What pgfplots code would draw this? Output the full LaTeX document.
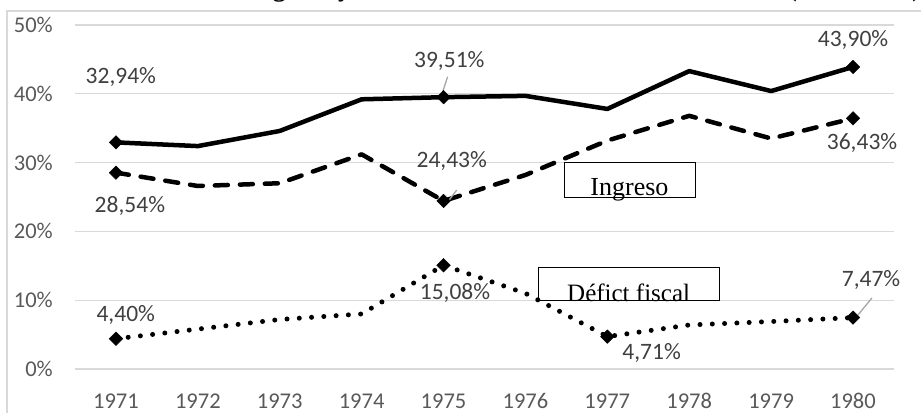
\documentclass[border=0pt]{standalone}
\usepackage{fontspec}
\setmainfont{Carlito}
\newfontfamily\tnr{Liberation Serif}
\usepackage{pgfplots}
\pgfplotsset{compat=1.18}
\definecolor{gridc}{HTML}{D9D9D9}
\definecolor{lab}{HTML}{404040}
\definecolor{tickc}{HTML}{595959}
\definecolor{lead}{HTML}{A6A6A6}
\begin{document}
\begin{tikzpicture}
\useasboundingbox (0pt,0pt) rectangle (921pt,413pt);
\fill[white] (0pt,0pt) rectangle (921pt,413pt);
\draw[gridc, line width=1.2pt] (7pt,0pt) -- (7pt,402pt) -- (921pt,402pt);
\begin{scope}[every node/.style={overlay, inner sep=0pt, font=\tnr\bfseries\fontsize{26}{30}\selectfont}]
\node[anchor=base east] at (244pt,416.5pt) {Gasto,};
\node[anchor=base west] at (251pt,416.5pt) {ingreso y déficit fiscal del Gobierno Federal};
\node[anchor=base west] at (788pt,416.5pt) {(\% del PIB)};
\end{scope}
\begin{axis}[at={(75pt,44pt)}, anchor=south west, scale only axis,
  width=819pt, height=344pt,
  xmin=1970.5, xmax=1980.5, ymin=0, ymax=50,
  axis line style={draw=none},
  ymajorgrids, grid style={gridc, line width=1.2pt},
  major tick length=0pt,
  xtick={1971,...,1980}, ytick={0,10,...,50},
  xticklabels={1971,1972,1973,1974,1975,1976,1977,1978,1979,1980},
  yticklabels={0\%,10\%,20\%,30\%,40\%,50\%},
  tick label style={font=\fontsize{22.5}{26}\selectfont, text=tickc, inner sep=0pt},
  yticklabel style={anchor=east, xshift=-22pt},
  xticklabel style={anchor=base, yshift=-39pt},
  clip=false]
% Gasto
\addplot[black, line width=4.5pt, line join=round, mark=square*, mark size=4.8pt,
  mark indices={1,5,10}, mark options={solid, rotate=45, line width=0.4pt}]
  coordinates {(1971,32.94) (1972,32.4) (1973,34.6) (1974,39.2) (1975,39.51)
  (1976,39.7) (1977,37.8) (1978,43.3) (1979,40.4) (1980,43.90)};
% Ingreso
\addplot[black, line width=4.5pt, line join=round, line cap=round, dash pattern=on 13pt off 12pt,
  mark=square*, mark size=4.8pt,
  mark indices={1,5,10}, mark options={solid, rotate=45, line width=0.4pt}]
  coordinates {(1971,28.54) (1972,26.6) (1973,27.0) (1974,31.2) (1975,24.43)
  (1976,28.2) (1977,33.2) (1978,36.8) (1979,33.5) (1980,36.43)};
% Deficit
\addplot[black, line width=5pt, line cap=round, dash pattern=on 0pt off 12.3pt,
  mark=square*, mark size=4.8pt,
  mark indices={1,5,7,10}, mark options={solid, rotate=45, line width=0.4pt}]
  coordinates {(1971,4.40) (1972,5.8) (1973,7.2) (1974,8.0) (1975,15.08)
  (1976,11.0) (1977,4.71) (1978,6.4) (1979,6.9) (1980,7.47)};
% leader lines
\draw[lead, line width=1.3pt] (axis cs:1975.05,42.49) -- (axis cs:1974.99,40.31);
\draw[lead, line width=1.3pt] (axis cs:1975.16,26.0) -- (axis cs:1975.04,24.1);
\draw[lead, line width=1.3pt] (axis cs:1980.23,10.32) -- (axis cs:1980.06,7.85);
% data labels
\begin{scope}[every node/.style={font=\fontsize{23.5}{27}\selectfont, text=lab, inner sep=0pt}]
\node at (axis cs:1971.06,42.44) {32,94\%};
\node at (axis cs:1971.17,23.69) {28,54\%};
\node at (axis cs:1975.07,44.77) {39,51\%};
\node at (axis cs:1975.10,30.23) {24,43\%};
\node at (axis cs:1980.0,47.82) {43,90\%};
\node at (axis cs:1980.11,32.85) {36,43\%};
\node at (axis cs:1971.12,7.85) {4,40\%};
\node at (axis cs:1975.14,11.05) {15,08\%};
\node at (axis cs:1977.54,2.33) {4,71\%};
\node at (axis cs:1980.22,12.94) {7,47\%};
\end{scope}
% text boxes
\draw[black, line width=0.9pt] (axis cs:1976.48,25.0) rectangle (axis cs:1978.07,30.09);
\node[anchor=base, inner sep=0pt, font=\tnr\fontsize{26}{30}\selectfont] at (axis cs:1977.27,25.29) {Ingreso};
\draw[black, line width=0.9pt] (axis cs:1976.16,10.03) rectangle (axis cs:1978.37,14.83);
\node[anchor=base, inner sep=0pt, font=\tnr\fontsize{25}{30}\selectfont] at (axis cs:1977.26,9.88) {Défict fiscal};
\end{axis}
\end{tikzpicture}
\end{document}
